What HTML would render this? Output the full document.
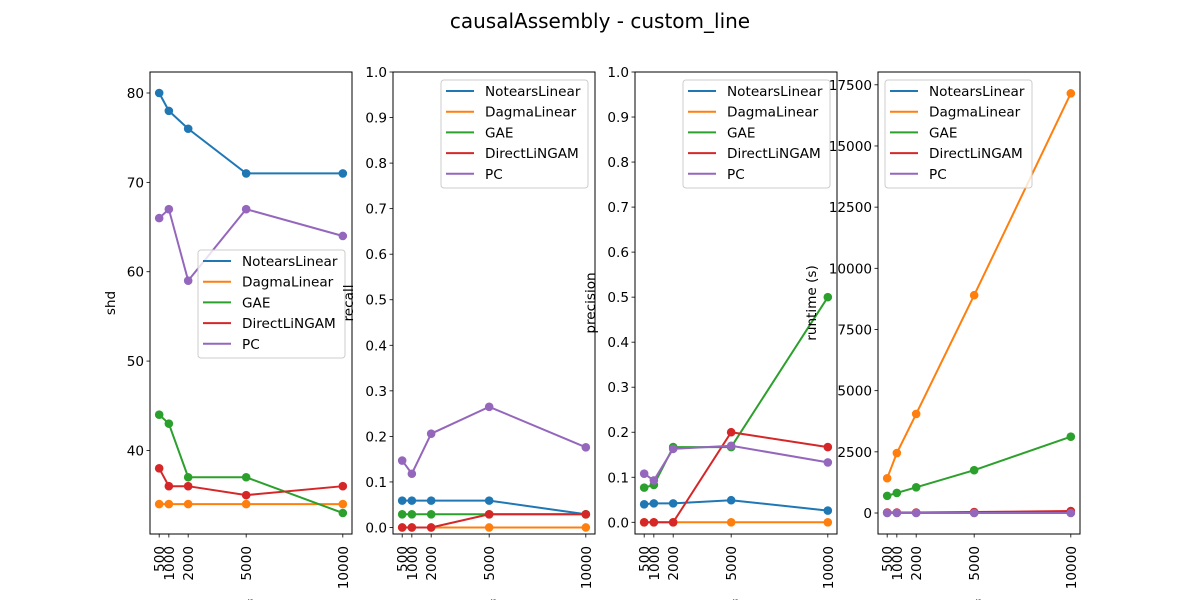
<!DOCTYPE html>
<html><head><meta charset="utf-8"><style>
html,body{margin:0;padding:0;background:#fff;width:1200px;height:600px;overflow:hidden}
svg{font-family:"DejaVu Sans","Liberation Sans",sans-serif}
</style></head><body>
<svg id="fig" width="1200" height="600" viewBox="0 0 1200 600" xmlns="http://www.w3.org/2000/svg">
<text x="600" y="28" text-anchor="middle" font-size="20">causalAssembly - custom_line</text>
</svg>
<script>
const nValues = [500, 1000, 2000, 5000, 10000];
const xTickLabels = ["500", "1000", "2000", "5000", "10000"];
const seriesNames = ["NotearsLinear", "DagmaLinear", "GAE", "DirectLiNGAM", "PC"];
const colors = ["#1f77b4", "#ff7f0e", "#2ca02c", "#d62728", "#9467bd"];

const shdNotears = [80, 78, 76, 71, 71];
const shdDagma = [34, 34, 34, 34, 34];
const shdGAE = [44, 43, 37, 37, 33];
const shdDirect = [38, 36, 36, 35, 36];
const shdPC = [66, 67, 59, 67, 64];
const shdTicks = [40, 50, 60, 70, 80];

const recallNotears = [0.059, 0.059, 0.059, 0.059, 0.029];
const recallDagma = [0, 0, 0, 0, 0];
const recallGAE = [0.029, 0.029, 0.029, 0.029, 0.029];
const recallDirect = [0, 0, 0, 0.029, 0.029];
const recallPC = [0.147, 0.118, 0.206, 0.265, 0.176];
const unitTicks = [0, 0.1, 0.2, 0.3, 0.4, 0.5, 0.6, 0.7, 0.8, 0.9, 1.0];

const precNotears = [0.04, 0.042, 0.042, 0.049, 0.026];
const precDagma = [0, 0, 0, 0, 0];
const precGAE = [0.077, 0.083, 0.167, 0.167, 0.5];
const precDirect = [0, 0, 0, 0.2, 0.167];
const precPC = [0.108, 0.093, 0.163, 0.17, 0.133];

const rtNotears = [5, 5, 5, 5, 5];
const rtDagma = [1420, 2450, 4050, 8900, 17150];
const rtGAE = [700, 820, 1050, 1750, 3120];
const rtDirect = [20, 20, 20, 40, 80];
const rtPC = [0, 0, 0, 0, 0];
const rtTicks = [0, 2500, 5000, 7500, 10000, 12500, 15000, 17500];

const NS = "http://www.w3.org/2000/svg";
const svg = document.getElementById("fig");
function mk(tag, attrs, parent) {
  const e = document.createElementNS(NS, tag);
  for (const k in attrs) e.setAttribute(k, attrs[k]);
  (parent || svg).appendChild(e);
  return e;
}
const TOP = 72, BOT = 534;

function panel(cfg) {
  const g = mk("g", {});
  
  
  const L = cfg.left, R = cfg.left + 202;
  const xmin = 25, xmax = 10475;
  const xs = v => L + (v - xmin) / (xmax - xmin) * (R - L);
  const ys = v => BOT - (v - cfg.ymin) / (cfg.ymax - cfg.ymin) * (BOT - TOP);
  cfg.yTicks.forEach(t => {
    const y = ys(t);
    mk("line", {x1: L - 3.5, x2: L, y1: y, y2: y, stroke: "#000", "stroke-width": 0.8}, g);
    const tx = mk("text", {x: L - 6, y: y + 5, "text-anchor": "end", "font-size": 13.6}, g);
    
    
    tx.textContent = cfg.fmt(t);
  });
  nValues.forEach((v, i) => {
    const x = xs(v);
    mk("line", {x1: x, x2: x, y1: BOT, y2: BOT + 3.5, stroke: "#000", "stroke-width": 0.8}, g);
    const tx = mk("text", {x: 0, y: 0, "text-anchor": "end", "font-size": 13.6, transform: `translate(${x + 5},${BOT + 12}) rotate(-90)`}, g);
    
    
    tx.textContent = xTickLabels[i];
  });
  cfg.series.forEach((vals, si) => {
    const pts = vals.map((v, i) => xs(nValues[i]) + "," + ys(v)).join(" ");
    const pl = mk("polyline", {points: pts, fill: "none", stroke: colors[si], "stroke-width": 2}, g);
    
    
    vals.forEach((v, i) => {
      const c = mk("circle", {cx: xs(nValues[i]), cy: ys(v), r: 4.3, fill: colors[si]}, g);
      
      
    });
  });
  const fr = mk("rect", {x: L, y: TOP, width: R - L, height: BOT - TOP, fill: "none", stroke: "#000", "stroke-width": 1}, g);
  
  
  const yl = mk("text", {x: 0, y: 0, "text-anchor": "middle", "font-size": 13.6, transform: `translate(${cfg.ylx},${(TOP + BOT) / 2}) rotate(-90)`}, g);
  
  
  yl.textContent = cfg.ylabel;
  const xl = mk("text", {x: (L + R) / 2, y: 607, "text-anchor": "middle", "font-size": 13.6}, g);
  
  
  xl.textContent = "n";
  const lx = cfg.legX, ly = cfg.legY;
  const lg = mk("g", {}, g);
  
  
  mk("rect", {x: lx, y: ly, width: 147, height: 108, rx: 3, fill: "#fff", "fill-opacity": 0.8, stroke: "#ccc", "stroke-width": 1}, lg);
  seriesNames.forEach((n, i) => {
    const yy = ly + 11 + i * 20.7;
    mk("line", {x1: lx + 5, x2: lx + 33, y1: yy, y2: yy, stroke: colors[i], "stroke-width": 2}, lg);
    const t = mk("text", {x: lx + 44, y: yy + 5, "font-size": 13.6}, lg);
    
    
    t.textContent = n;
  });
}

panel({key: "shd", left: 150, ymin: 30.65, ymax: 82.35, yTicks: shdTicks, fmt: t => String(t),
  series: [shdNotears, shdDagma, shdGAE, shdDirect, shdPC], ylabel: "shd", ylx: 115, legX: 198, legY: 250});
panel({key: "recall", left: 393, ymin: -0.0143, ymax: 1.0, yTicks: unitTicks, fmt: t => t.toFixed(1),
  series: [recallNotears, recallDagma, recallGAE, recallDirect, recallPC], ylabel: "recall", ylx: 353, legX: 441, legY: 80});
panel({key: "precision", left: 635, ymin: -0.026, ymax: 1.0, yTicks: unitTicks, fmt: t => t.toFixed(1),
  series: [precNotears, precDagma, precGAE, precDirect, precPC], ylabel: "precision", ylx: 595, legX: 683, legY: 80});
panel({key: "runtime", left: 878, ymin: -858, ymax: 18023, yTicks: rtTicks, fmt: t => String(t),
  series: [rtNotears, rtDagma, rtGAE, rtDirect, rtPC], ylabel: "runtime (s)", ylx: 816, legX: 885, legY: 80});
</script>
</body></html>
